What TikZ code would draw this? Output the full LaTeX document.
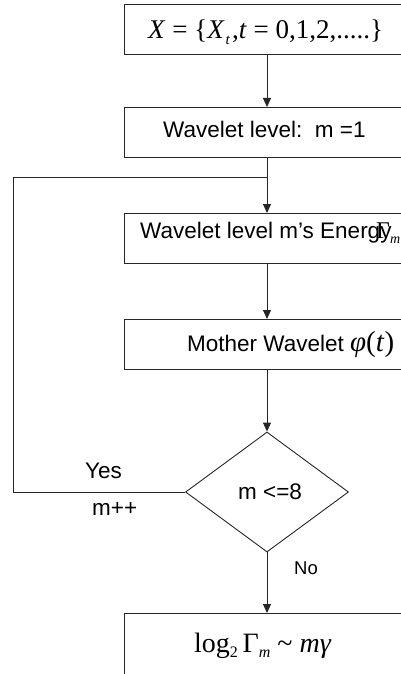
\documentclass[tikz,border=0pt]{standalone}
\usepackage{fontspec}
\setmainfont{Liberation Serif}
\newfontfamily\arial{Liberation Sans}
\usetikzlibrary{shapes.geometric,arrows.meta}
\begin{document}
\begin{tikzpicture}[x=1pt,y=-1pt,
  line/.style={draw=black!85,line width=0.9pt},
  arr/.style={line,-{Triangle[length=9pt,width=8pt]}},
  stepbox/.style={line,rectangle,minimum width=286pt,minimum height=50pt,inner sep=0pt,anchor=north},
  decision/.style={line,diamond,minimum width=163pt,minimum height=120pt,inner sep=0pt},
  txt/.style={inner sep=0pt,anchor=base west,font=\arial\fontsize{22.5}{26}\selectfont},
  mtxt/.style={inner sep=0pt,anchor=base west,font=\fontsize{27}{30}\selectfont}]
\useasboundingbox (0,0) rectangle (401,674);
\clip (0,0) rectangle (401,674);
% boxes
\node[stepbox] (b1) at (267,4) {};
\node[stepbox] (b2) at (267,107) {};
\node[stepbox] (b3) at (267,213) {};
\node[stepbox] (b4) at (267,319) {};
\node[decision] (d) at (267,492) {};
\node[stepbox,minimum height=80pt] (b5) at (267,613) {};
% texts
\node[mtxt] (t1) at (148,39) {\textit{X} = \{\textit{X}\kern1pt\raisebox{-6pt}{\fontsize{15}{15}\selectfont\textit{t}}\kern2pt,\textit{t} = 0,1,2,.....\}};
\node[txt] (t2) at (163,138) {Wavelet level:\ \ m =1};
\node[txt] (t3) at (140,238) {Wavelet level m’s Energy};
\node[inner sep=0pt,anchor=base west,font=\fontsize{24}{27}\selectfont] (g3) at (376,238) {Γ\raisebox{-5pt}{\fontsize{14}{15}\selectfont\textit{m}}};
\node[txt] (t4) at (187,351) {Mother Wavelet \fontsize{29}{31}\selectfont\rmfamily\textit{φ}(\textit{t})};
\node[txt] (td) at (238,499) {m <=8};
\node[txt] (yes) at (85,478) {Yes};
\node[txt] (mpp) at (92,515) {m++};
\node[txt,font=\arial\fontsize{18.5}{20}\selectfont] (no) at (294,574) {No};
\node[inner sep=0pt,anchor=base west,font=\fontsize{28}{30}\selectfont] (t5) at (194,652) {log\raisebox{-5pt}{\fontsize{16}{16}\selectfont 2}\,Γ\raisebox{-5pt}{\fontsize{16}{16}\selectfont\textit{m}} \textasciitilde\ \textit{mγ}};
% connectors
\coordinate (loopL) at (13,492);
\coordinate (loopT) at (13,177);
\coordinate (join) at (267,177);
\draw[arr] (b1.south) -- (b2.north);
\draw[arr] (b2.south) -- (b3.north);
\draw[arr] (b3.south) -- (b4.north);
\draw[arr] (b4.south) -- (d.north);
\draw[arr] (d.south) -- (b5.north);
\draw[line] (d.west) -- (loopL) -- (loopT) -- (join);
\end{tikzpicture}
\end{document}
